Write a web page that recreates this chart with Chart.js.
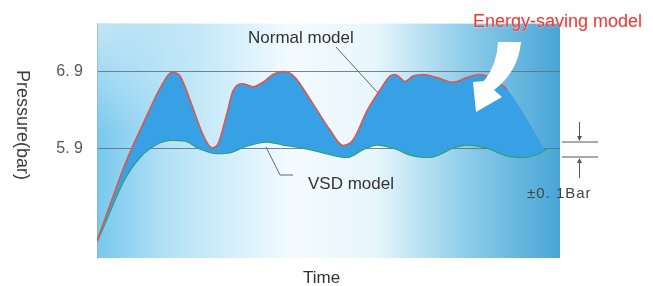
<!DOCTYPE html>
<html lang="en">
<head>
<meta charset="UTF-8">
<title>Pressure - Normal vs VSD</title>
<script src="https://cdn.jsdelivr.net/npm/chart.js"></script>
<style>
  html, body { margin: 0; padding: 0; background: #fff; }
  #wrap { width: 653px; height: 286px; }
</style>
</head>
<body>
<div id="wrap"><canvas id="grafico" width="653" height="286"></canvas></div>
<script>
// time (arbitrary units) and pressure (bar)
const normalTime = [0, 20, 30, 50, 63, 75, 83, 93, 106, 115, 121, 130, 136, 146, 156, 166, 176, 186, 196, 216, 233, 246, 256, 270, 283, 293, 298, 303, 308, 316, 326, 340, 356, 370, 383, 393, 403, 410, 448];
const normalPressure = [4.70, 5.42, 5.76, 6.33, 6.68, 6.89, 6.84, 6.53, 6.08, 5.91, 5.96, 6.36, 6.65, 6.74, 6.70, 6.76, 6.86, 6.90, 6.85, 6.48, 6.14, 5.94, 6.01, 6.39, 6.66, 6.84, 6.86, 6.82, 6.77, 6.84, 6.86, 6.82, 6.76, 6.82, 6.86, 6.82, 6.74, 6.67, 5.89];

const vsdTime = [0, 13, 26, 43, 60, 75, 88, 103, 120, 133, 148, 170, 186, 206, 226, 250, 266, 280, 296, 316, 333, 356, 370, 390, 410, 426, 443, 450];
const vsdPressure = [4.70, 5.09, 5.47, 5.79, 5.96, 6.01, 6.00, 5.90, 5.84, 5.85, 5.93, 5.99, 5.95, 5.91, 5.85, 5.79, 5.89, 5.95, 5.91, 5.81, 5.79, 5.91, 5.95, 5.91, 5.81, 5.79, 5.85, 5.90];

const yTicks = [5.9, 6.9];
const yTickLabels = ['5. 9', '6. 9'];

const RED = 'rgb(218, 88, 78)';
const GREEN = 'rgb(40, 160, 105)';
const FILL = 'rgb(56, 161, 230)';
const FONT = '"Liberation Sans", Arial, sans-serif';

const toPoints = (xs, ys) => xs.map((x, i) => ({ x: x, y: ys[i] }));

// gradient panel behind the plot
const panelBg = {
  id: 'panelBg',
  beforeDraw(chart) {
    const { ctx, chartArea: a } = chart;
    ctx.save();
    const g = ctx.createLinearGradient(a.left, 0, a.right, 0);
    g.addColorStop(0, 'rgb(120, 200, 238)');
    g.addColorStop(0.15, 'rgb(178, 225, 246)');
    g.addColorStop(0.42, 'rgb(243, 251, 254)');
    g.addColorStop(0.6, 'rgb(232, 246, 252)');
    g.addColorStop(0.8, 'rgb(140, 204, 234)');
    g.addColorStop(1, 'rgb(72, 165, 214)');
    ctx.fillStyle = g;
    ctx.fillRect(a.left, a.top, a.right - a.left, a.bottom - a.top);
    // lighter top-left corner
    const r = ctx.createRadialGradient(a.left, a.top, 0, a.left, a.top, 110);
    r.addColorStop(0, 'rgba(225, 242, 250, 0.7)');
    r.addColorStop(1, 'rgba(225, 242, 250, 0)');
    ctx.fillStyle = r;
    ctx.fillRect(a.left, a.top, 110, 110);
    ctx.restore();
  }
};

// labels, leader lines, arrows
const notes = {
  id: 'notes',
  afterDraw(chart) {
    const { ctx } = chart;
    ctx.save();

    // y title, reads top to bottom
    ctx.fillStyle = '#3d3d3d';
    ctx.font = '18px ' + FONT;
    ctx.translate(22, 125);
    ctx.rotate(Math.PI / 2);
    ctx.textAlign = 'center';
    ctx.textBaseline = 'middle';
    ctx.fillText('Pressure(bar)', 0, 0);
    ctx.setTransform(1, 0, 0, 1, 0, 0);

    ctx.textAlign = 'left';
    ctx.textBaseline = 'alphabetic';
    ctx.font = '17px ' + FONT;
    ctx.fillStyle = '#333';
    ctx.fillText('Time', 303, 283);
    ctx.fillText('Normal model', 248, 43);
    ctx.fillText('VSD model', 308, 189);

    // leader lines
    ctx.strokeStyle = '#666';
    ctx.lineWidth = 1;
    ctx.beginPath();
    ctx.moveTo(336, 47); ctx.lineTo(378, 93);
    ctx.moveTo(266, 147); ctx.lineTo(280, 175); ctx.lineTo(293, 175);
    ctx.stroke();

    // energy saving label
    ctx.font = '18px ' + FONT;
    ctx.lineWidth = 1;
    ctx.strokeStyle = 'rgba(255, 215, 215, 0.6)';
    ctx.strokeText('Energy-saving model', 473, 27);
    ctx.fillStyle = 'rgb(232, 62, 58)';
    ctx.fillText('Energy-saving model', 473, 27);

    // white curved arrow
    ctx.fillStyle = '#fff';
    ctx.beginPath();
    ctx.moveTo(498, 42);
    ctx.lineTo(521, 42);
    ctx.quadraticCurveTo(518, 72, 494, 90);
    ctx.lineTo(502, 97);
    ctx.lineTo(476, 112);
    ctx.lineTo(473, 82);
    ctx.lineTo(484, 81);
    ctx.quadraticCurveTo(497, 65, 498, 42);
    ctx.closePath();
    ctx.fill();

    // +-0.1 bar marker
    ctx.strokeStyle = '#555';
    ctx.fillStyle = '#555';
    ctx.beginPath();
    ctx.moveTo(562, 142); ctx.lineTo(598, 142);
    ctx.moveTo(562, 157); ctx.lineTo(598, 157);
    ctx.moveTo(579.5, 122); ctx.lineTo(579.5, 140);
    ctx.moveTo(579.5, 159); ctx.lineTo(579.5, 178);
    ctx.stroke();
    ctx.beginPath();
    ctx.moveTo(577, 136); ctx.lineTo(582, 136); ctx.lineTo(579.5, 141); ctx.closePath();
    ctx.moveTo(577, 163); ctx.lineTo(582, 163); ctx.lineTo(579.5, 158); ctx.closePath();
    ctx.fill();

    ctx.font = '15px ' + FONT;
    ctx.fillStyle = '#444';
    ctx.letterSpacing = '1px';
    ctx.fillText('\u00b10. 1Bar', 527, 198);
    ctx.letterSpacing = '0px';

    ctx.restore();
  }
};

new Chart(document.getElementById('grafico'), {
  type: 'line',
  data: {
    datasets: [{
      label: 'Normal model',
      data: toPoints(normalTime, normalPressure),
      borderColor: RED,
      borderWidth: 1.6,
      backgroundColor: FILL,
      fill: '+1',
      pointRadius: 0,
      cubicInterpolationMode: 'monotone',
      segment: {
        borderColor: c => c.p1DataIndex === normalTime.length - 1 ? 'rgba(0,0,0,0)' : RED
      }
    }, {
      label: 'VSD model',
      data: toPoints(vsdTime, vsdPressure),
      borderColor: GREEN,
      borderWidth: 2,
      fill: false,
      pointRadius: 0,
      cubicInterpolationMode: 'monotone'
    }]
  },
  options: {
    responsive: false,
    animation: false,
    devicePixelRatio: 1,
    layout: { padding: { top: 18, right: 93, bottom: 28, left: 0 } },
    plugins: {
      legend: { display: false },
      tooltip: { enabled: false }
    },
    scales: {
      x: { type: 'linear', min: 0, max: 463, display: false },
      y: {
        min: 4.482,
        max: 7.520,
        afterFit: s => { s.width = 97; },
        afterBuildTicks: s => { s.ticks = yTicks.map(v => ({ value: v })); },
        border: { display: true, color: 'rgba(150, 170, 190, 0.6)' },
        grid: { color: 'rgba(95, 110, 130, 0.85)', lineWidth: 1, drawTicks: false },
        ticks: {
          padding: 14,
          color: '#555',
          font: { size: 16, family: FONT },
          callback: v => yTickLabels[yTicks.indexOf(v)]
        }
      }
    }
  },
  plugins: [panelBg, notes]
});
</script>
</body>
</html>
